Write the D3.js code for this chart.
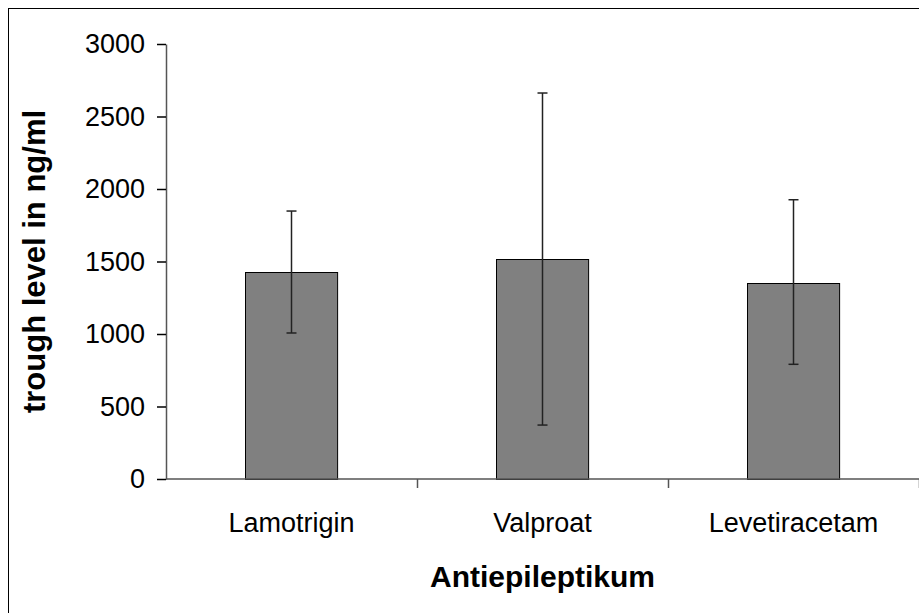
<!DOCTYPE html>
<html>
<head>
<meta charset="utf-8">
<script src="https://cdn.jsdelivr.net/npm/d3@7"></script>
<style>
  body { margin: 0; background: #fff; }
  svg { display: block; font-family: "Liberation Sans", Arial, sans-serif; }
</style>
</head>
<body>
<div class="chart"></div>
<script>
var categories = ["Lamotrigin", "Valproat", "Levetiracetam"];
var means = [1430, 1517, 1354];
var errLow = [1007, 372, 791];
var errHigh = [1848, 2662, 1926];
var yTicks = [0, 500, 1000, 1500, 2000, 2500, 3000];

var data = categories.map(function (c, i) {
    return {label: c, value: means[i], lo: errLow[i], hi: errHigh[i]};
});

var width = 919, height = 613;
var margin = {left: 166, top: 44, right: 0, bottom: 134};

var svg = d3.select('.chart')
    .append('svg')
    .attr('width', width)
    .attr('height', height);

// outer frame (only top/left visible in the picture)
svg.append('rect')
    .attr('x', 8.5).attr('y', 8.5)
    .attr('width', 1000).attr('height', 1000)
    .attr('fill', 'none')
    .attr('stroke', '#000');

var x = d3.scaleBand()
    .domain(categories)
    .range([margin.left, width - margin.right])
    .paddingInner(0.633)
    .paddingOuter(0.3165);

var y = d3.scaleLinear()
    .domain([0, 3000])
    .range([height - margin.bottom, margin.top]);

// bars
svg.selectAll('rect.bar')
    .data(data)
    .enter()
    .append('rect')
    .attr('class', 'bar')
    .attr('x', function (d) { return Math.round(x(d.label)) + 0.5; })
    .attr('y', function (d) { return Math.round(y(d.value)) + 0.5; })
    .attr('width', x.bandwidth())
    .attr('height', function (d) { return Math.round(y(0)) - Math.round(y(d.value)); })
    .attr('fill', '#808080')
    .attr('stroke', '#000')
    .attr('stroke-width', 1);

// error bars
var err = svg.selectAll('g.err')
    .data(data)
    .enter()
    .append('g')
    .attr('class', 'err')
    .attr('stroke', '#222')
    .attr('stroke-width', 1.5);

err.append('line')
    .attr('x1', function (d) { return x(d.label) + x.bandwidth() / 2; })
    .attr('x2', function (d) { return x(d.label) + x.bandwidth() / 2; })
    .attr('y1', function (d) { return y(d.lo); })
    .attr('y2', function (d) { return y(d.hi); });

['lo', 'hi'].forEach(function (k) {
    err.append('line')
        .attr('x1', function (d) { return x(d.label) + x.bandwidth() / 2 - 5; })
        .attr('x2', function (d) { return x(d.label) + x.bandwidth() / 2 + 5; })
        .attr('y1', function (d) { return y(d[k]); })
        .attr('y2', function (d) { return y(d[k]); });
});

// y axis
var yAxis = svg.append('g')
    .attr('transform', 'translate(' + margin.left + ',0)')
    .call(d3.axisLeft(y).tickValues(yTicks).tickFormat(d3.format('d'))
        .tickSize(9).tickPadding(12).tickSizeOuter(0));

yAxis.select('.domain').attr('stroke', '#555').attr('stroke-width', 1.5);
yAxis.selectAll('.tick line').attr('stroke', '#000').attr('stroke-width', 1.5);
yAxis.selectAll('.tick text')
    .attr('font-size', 27)
    .attr('font-family', '"Liberation Sans", Arial, sans-serif')
    .attr('fill', '#000');

// x axis, ticks at category boundaries
var xAxis = svg.append('g')
    .attr('transform', 'translate(0,' + y(0) + ')');
xAxis.append('line')
    .attr('x1', margin.left).attr('x2', width)
    .attr('stroke', '#555').attr('stroke-width', 1.5);
xAxis.selectAll('line.tick')
    .data(categories)
    .enter()
    .append('line')
    .attr('class', 'tick')
    .attr('x1', function (d) { return Math.round(x(d) + x.step() * 0.5 + x.bandwidth() / 2) + 0.5; })
    .attr('x2', function (d) { return Math.round(x(d) + x.step() * 0.5 + x.bandwidth() / 2) + 0.5; })
    .attr('y1', 0).attr('y2', 9)
    .attr('stroke', '#555').attr('stroke-width', 1.5);
xAxis.selectAll('text')
    .data(categories)
    .enter()
    .append('text')
    .attr('x', function (d) { return x(d) + x.bandwidth() / 2; })
    .attr('y', 53)
    .attr('text-anchor', 'middle')
    .attr('font-size', 27)
    .attr('fill', '#000')
    .text(function (d) { return d; });

// axis titles
svg.append('text')
    .attr('x', (margin.left + width) / 2)
    .attr('y', 587)
    .attr('text-anchor', 'middle')
    .attr('font-size', 30)
    .attr('font-weight', 'bold')
    .text('Antiepileptikum');

svg.append('text')
    .attr('transform', 'translate(45,' + (margin.top + y(0)) / 2 + ') rotate(-90)')
    .attr('text-anchor', 'middle')
    .attr('font-size', 31)
    .attr('font-weight', 'bold')
    .text('trough level in ng/ml');
</script>
</body>
</html>
